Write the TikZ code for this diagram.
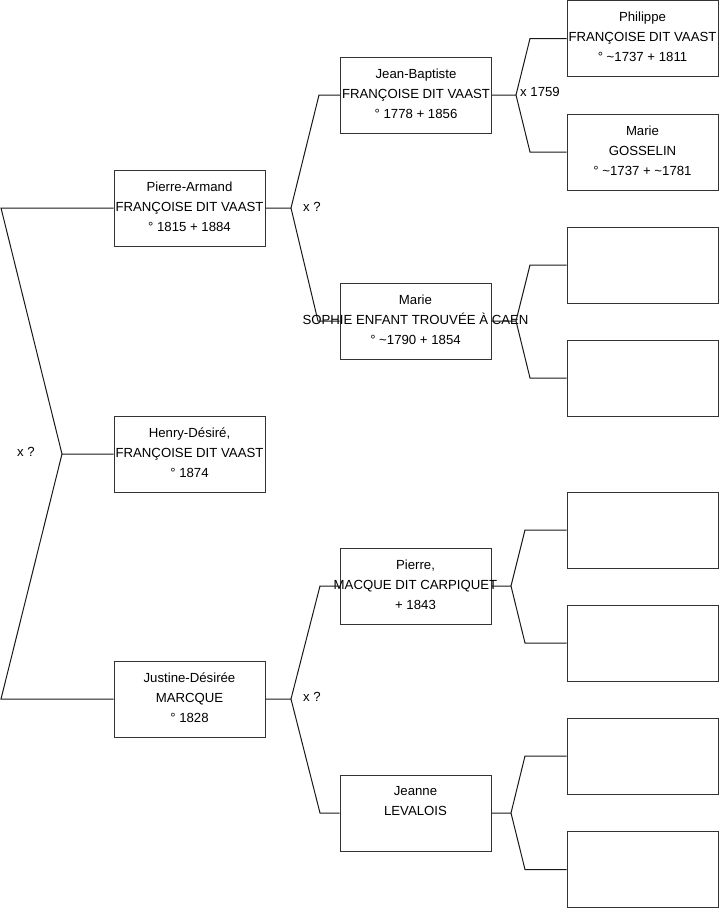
\documentclass[tikz,border=0pt]{standalone}
\usepackage{fontspec}
\setmainfont{Liberation Sans}
\usetikzlibrary{positioning}
\begin{document}
\begin{tikzpicture}[x=1pt,y=-1pt,every node/.style={font=\fontsize{13.2}{20}\selectfont},pbox/.style={draw=black!80,line width=1pt,minimum width=151pt,minimum height=76pt,inner sep=0pt},ptxt/.style={align=center,inner sep=0pt,below=12pt of #1.north},link/.style={draw=black!90,line width=1pt}]
\useasboundingbox (0,0) rectangle (719,908);
\node[pbox] (pa) at (189.5,208) {};
\node[pbox] (hd) at (189.5,454) {};
\node[pbox] (jd) at (189.5,699) {};
\node[pbox] (jb) at (416,95) {};
\node[pbox] (ms) at (415.5,321) {};
\node[pbox] (pm) at (415.5,586) {};
\node[pbox] (jl) at (415.5,813) {};
\node[pbox] (ph) at (642.5,38.5) {};
\node[pbox] (mg) at (642.5,152) {};
\node[pbox] (ms1) at (642.5,265) {};
\node[pbox] (ms2) at (642.5,378) {};
\node[pbox] (pm1) at (642.5,530) {};
\node[pbox] (pm2) at (642.5,643) {};
\node[pbox] (jl1) at (642.5,756) {};
\node[pbox] (jl2) at (642.5,869.5) {};
\node[ptxt=pa] (pa-t) {Pierre-Armand\\FRANÇOISE DIT VAAST\\° 1815 + 1884};
\node[ptxt=hd] (hd-t) {Henry-Désiré,\\FRANÇOISE DIT VAAST\\° 1874};
\node[ptxt=jd] (jd-t) {Justine-Désirée\\MARCQUE\\° 1828};
\node[ptxt=jb] (jb-t) {Jean-Baptiste\\FRANÇOISE DIT VAAST\\° 1778 + 1856};
\node[ptxt=ms] (ms-t) {Marie\\SOPHIE ENFANT TROUVÉE À CAEN\\° \textasciitilde1790 + 1854};
\node[ptxt=pm] (pm-t) {Pierre,\\MACQUE DIT CARPIQUET\\+ 1843};
\node[ptxt=jl] (jl-t) {Jeanne\\LEVALOIS};
\node[ptxt=ph] (ph-t) {Philippe\\FRANÇOISE DIT VAAST\\° \textasciitilde1737 + 1811};
\node[ptxt=mg] (mg-t) {Marie\\GOSSELIN\\° \textasciitilde1737 + \textasciitilde1781};
\coordinate (j0) at (62,454);
\coordinate (j1) at (291,208);
\coordinate (j2) at (291,699);
\coordinate (j3) at (516,95);
\coordinate (j4) at (516,321);
\coordinate (j5) at (511,586);
\coordinate (j6) at (511,813);
\draw[link] (pa.west) -- (1,208) -- (j0) -- (hd.west) (j0) -- (1,699) -- (jd.west);
\draw[link] (pa.east) -- (j1) -- (319,95) -- (jb.west) (j1) -- (318,321) -- (ms.west);
\draw[link] (jd.east) -- (j2) -- (320,586) -- (pm.west) (j2) -- (320,813) -- (jl.west);
\draw[link] (jb.east) -- (j3) -- (530,38.5) -- (ph.west) (j3) -- (530,152) -- (mg.west);
\draw[link] (ms.east) -- (j4) -- (530,265) -- (ms1.west) (j4) -- (530,378) -- (ms2.west);
\draw[link] (pm.east) -- (j5) -- (525,530) -- (pm1.west) (j5) -- (525,643) -- (pm2.west);
\draw[link] (jl.east) -- (j6) -- (525,756) -- (jl1.west) (j6) -- (525,869.5) -- (jl2.west);
\node (m0) at (26,452) {x ?};
\node (m1) at (312,207) {x ?};
\node (m2) at (312,697) {x ?};
\node (m3) at (540,92) {x 1759};
\end{tikzpicture}
\end{document}
